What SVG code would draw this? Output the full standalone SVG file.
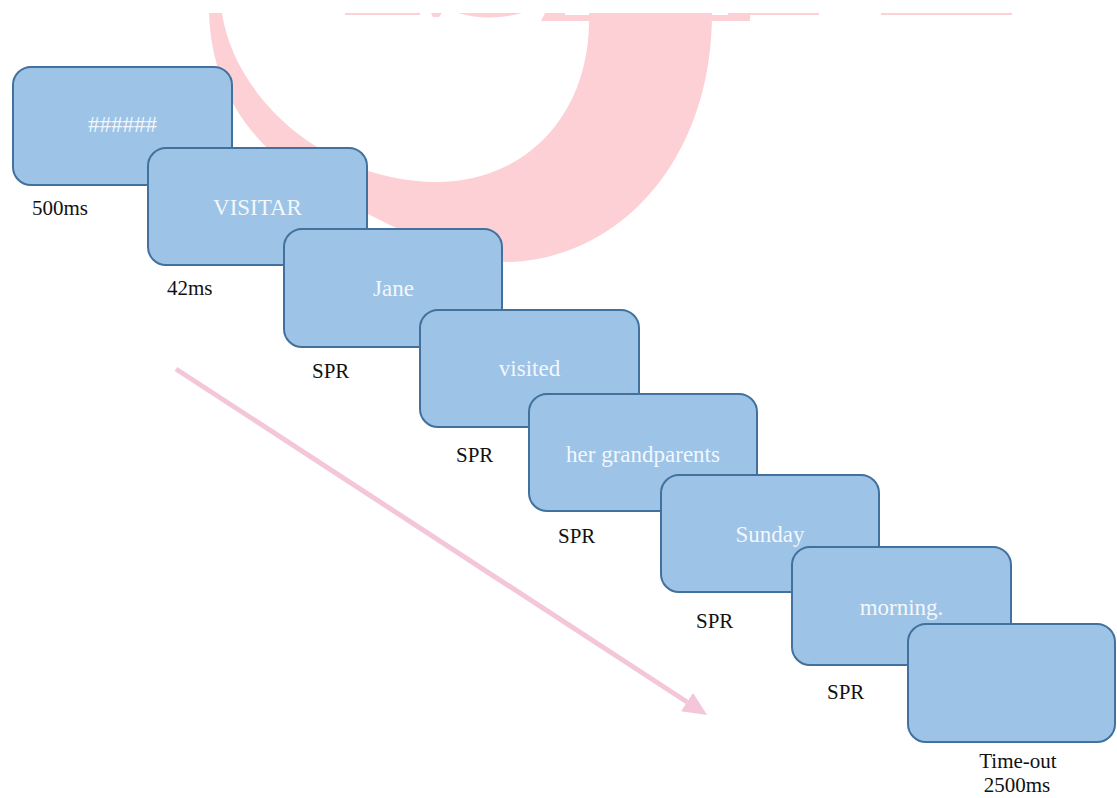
<svg xmlns="http://www.w3.org/2000/svg" width="1117" height="798" viewBox="0 0 1117 798">
<style>
.wm{fill:#fcd0d4;stroke:none}
.box{fill:#9dc3e6;stroke:#41719c;stroke-width:2}
.word{font-family:"Liberation Serif","Times New Roman",serif;font-size:23px;fill:#f3f7fc;text-anchor:middle}
.lbl{font-family:"Liberation Serif","Times New Roman",serif;font-size:21px;fill:#111111}
.arrow{stroke:#f3c6da;stroke-width:5;fill:none}
</style>
<defs>
<marker id="ah" markerUnits="userSpaceOnUse" markerWidth="24" markerHeight="22" refX="0" refY="11" orient="auto" viewBox="0 0 24 22">
<path d="M0,0 L24,11 L0,22 Z" fill="#f3c6da"/>
</marker>
</defs>
<rect width="1117" height="798" fill="#ffffff"/>
<g id="watermark">
<path class="wm" fill-rule="evenodd" d="M209,13 C212,100 260,160 350,205 C420,240 460,262 510,262 C620,258 712,160 712,13 Z M222,13 C234,95 322,182 440,182 C530,180 592,110 589,13 Z"/>
<rect class="wm" x="345" y="13" width="75" height="2"/>
<path class="wm" d="M431,13 L442,13 L439,17 L433,17 Z"/>
<path class="wm" d="M458,13 Q490,22 522,13 Z"/>
<path class="wm" d="M545,13 L565,13 L565,15 L618,15 L618,13 L653,13 L653,15 L728,15 L728,13 L750,13 L750,21 L541,21 Z"/>
<rect class="wm" x="750" y="13" width="69" height="2"/>
<rect class="wm" x="881" y="13" width="131" height="2"/>
</g>
<g id="connectors">
<line class="arrow" x1="176" y1="369" x2="687" y2="702" marker-end="url(#ah)"/>
</g>
<g id="n1">
<rect class="box" x="13" y="67" width="219" height="118" rx="18"/>
<text class="word" x="122.5" y="132">######</text>
<text class="lbl" x="32" y="215">500ms</text>
</g>
<g id="n2">
<rect class="box" x="148" y="148" width="219" height="117" rx="18"/>
<text class="word" x="257.5" y="215">VISITAR</text>
<text class="lbl" x="167" y="295">42ms</text>
</g>
<g id="n3">
<rect class="box" x="284" y="229" width="218" height="118" rx="18"/>
<text class="word" x="393.5" y="296">Jane</text>
<text class="lbl" x="312" y="378">SPR</text>
</g>
<g id="n4">
<rect class="box" x="420" y="310" width="219" height="117" rx="18"/>
<text class="word" x="529.5" y="376">visited</text>
<text class="lbl" x="456" y="462">SPR</text>
</g>
<g id="n5">
<rect class="box" x="529" y="394" width="228" height="117" rx="18"/>
<text class="word" x="643" y="462">her grandparents</text>
<text class="lbl" x="558" y="543">SPR</text>
</g>
<g id="n6">
<rect class="box" x="661" y="475" width="218" height="117" rx="18"/>
<text class="word" x="770" y="542">Sunday</text>
<text class="lbl" x="696" y="628">SPR</text>
</g>
<g id="n7">
<rect class="box" x="792" y="547" width="219" height="118" rx="18"/>
<text class="word" x="901.5" y="615">morning.</text>
<text class="lbl" x="827" y="699">SPR</text>
</g>
<g id="n8">
<rect class="box" x="908" y="624" width="207" height="118" rx="18"/>
<text class="lbl" x="1018" y="768" text-anchor="middle">Time-out</text>
<text class="lbl" x="1017" y="792" text-anchor="middle">2500ms</text>
</g>
</svg>
